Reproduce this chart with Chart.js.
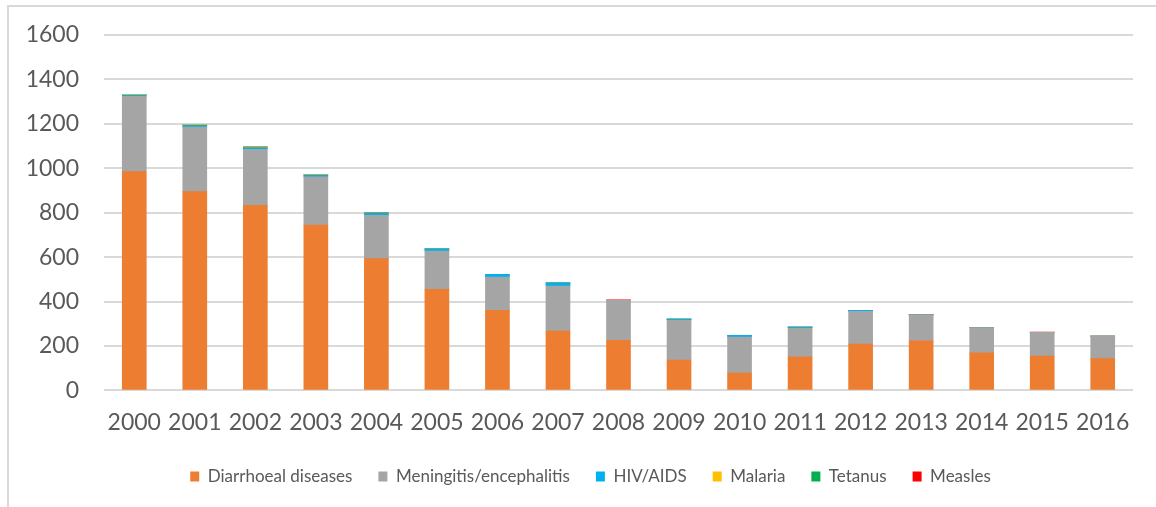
<!DOCTYPE html>
<html>
<head>
<meta charset="utf-8">
<script src="https://cdn.jsdelivr.net/npm/chart.js@4.4.1/dist/chart.umd.min.js"></script>
<style>
  html, body { margin: 0; padding: 0; background: #fff; }
  #wrap { position: relative; width: 1156px; height: 507px; }
  #frame { position: absolute; left: 7px; top: 5px; right: -4px; bottom: -4px;
           border-top: 2px solid #d9d9d9; border-left: 2px solid #d9d9d9; }
  canvas { position: absolute; left: 0; top: 0; }
</style>
</head>
<body>
<div id="wrap">
  <div id="frame"></div>
  <canvas id="chart" width="1156" height="507"></canvas>
</div>
<script>
// años y series (muertes por causa)
const years = ['2000','2001','2002','2003','2004','2005','2006','2007','2008',
               '2009','2010','2011','2012','2013','2014','2015','2016'];
const diarrhoeal = [985, 895, 833, 744, 593, 455, 360, 267, 225, 137, 78, 151, 209, 223, 169, 155, 143];
const meningitis = [339, 290, 252, 217, 195, 172, 150, 203, 180, 179, 162, 129, 147, 117, 113, 106, 101];
const hivAids    = [6, 8, 8, 7, 9, 10, 12, 14, 1, 5, 8, 5, 4, 0, 0, 0, 0];
const malaria    = [3, 4, 4, 3, 1, 0, 0, 0, 0, 0, 0, 0, 0, 0, 0, 0, 0];
const tetanus    = [0, 0, 0, 0, 1, 0, 0, 0, 0, 0, 0, 0, 0, 0, 0, 0, 0];
const measles    = [0, 0, 0, 0, 0, 0, 0, 0, 2, 0, 0, 0, 0, 3, 1, 1, 0];
const yTicks = [0, 200, 400, 600, 800, 1000, 1200, 1400, 1600];

const FONT = 'Lato';
const TXT = '#595959';

function serie(label, data, color){
  return { label, data, backgroundColor: color, borderWidth: 0, barThickness: 24 };
}

new Chart(document.getElementById('chart'), {
  type: 'bar',
  data: {
    labels: years,
    datasets: [
      serie('Diarrhoeal diseases', diarrhoeal, '#ED7D31'),
      serie('Meningitis/encephalitis', meningitis, '#A5A5A5'),
      serie('HIV/AIDS', hivAids, '#00B0F0'),
      serie('Malaria', malaria, '#FFC000'),
      serie('Tetanus', tetanus, '#00B050'),
      serie('Measles', measles, '#FF0000')
    ]
  },
  options: {
    responsive: false,
    animation: false,
    layout: { padding: { left: 25, right: 0, top: 35, bottom: 12 } },
    plugins: {
      tooltip: { enabled: false },
      legend: {
        position: 'bottom',
        labels: {
          boxWidth: 9, boxHeight: 10, padding: 26,
          color: TXT, font: { family: FONT, size: 17 }
        }
      }
    },
    scales: {
      x: {
        stacked: true,
        grid: { display: false },
        border: { display: false },
        afterFit: (s) => { s.height = s.height - 4; },
        ticks: { color: TXT, font: { family: FONT, size: 23 }, padding: 10, maxRotation: 0 }
      },
      y: {
        stacked: true,
        min: 0, max: 1600,
        afterFit: (s) => { s.width = 79; s.paddingTop = 0; s.paddingBottom = 0; },
        afterBuildTicks: (s) => { s.ticks = yTicks.map(v => ({ value: v })); },
        grid: { color: '#d9d9d9', lineWidth: 2, drawTicks: false },
        border: { display: false },
        ticks: { color: TXT, font: { family: FONT, size: 23 }, padding: 25,
                 callback: (v) => String(v) }
      },
      // eje vacío a la derecha: solo reserva margen
      yRight: {
        position: 'right',
        afterFit: (s) => { s.width = 23; s.paddingTop = 0; s.paddingBottom = 0; },
        grid: { display: false },
        border: { display: false },
        ticks: { display: false }
      }
    }
  }
});
</script>
</body>
</html>
